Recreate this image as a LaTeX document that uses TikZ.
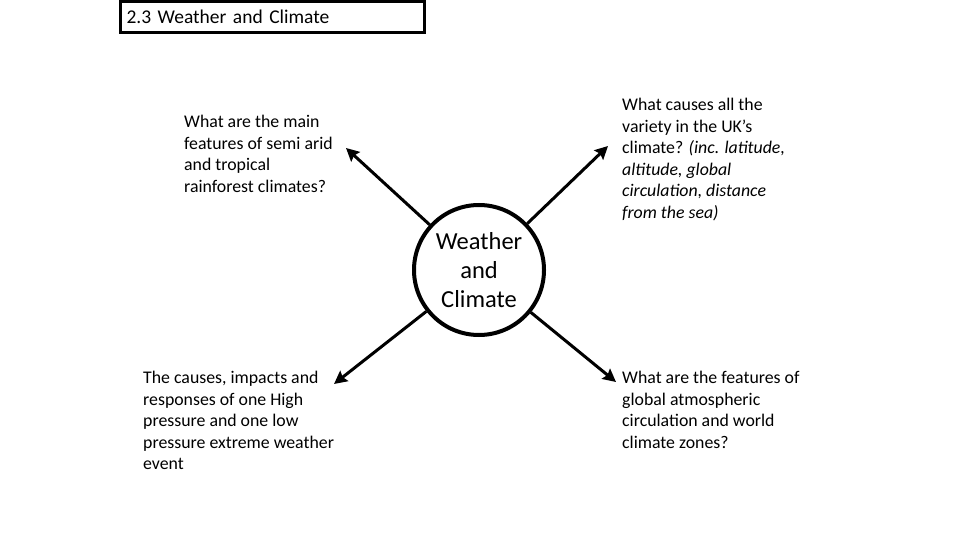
\documentclass[tikz,border=0pt]{standalone}
\usepackage{fontspec}
\setmainfont{Carlito}
\usetikzlibrary{arrows.meta}

\begin{document}
\begin{tikzpicture}[x=1pt, y=-1pt,
    titleStyle/.style={rectangle, draw, line width=3pt, minimum height=31pt, inner xsep=6pt, inner ysep=0pt, text width=292pt, align=left, font=\fontsize{19.5}{21}\selectfont},
    hubStyle/.style={circle, draw, line width=4pt, minimum size=130pt, inner sep=0pt, align=center, font=\fontsize{24.5}{29}\selectfont},
    questionStyle/.style={anchor=north west, inner sep=0pt, align=left, font=\fontsize{17.8}{21.5}\selectfont},
    arrowStyle/.style={line width=3pt, -{Stealth[length=13pt, width=13pt, inset=2pt]}}]
    \useasboundingbox (0,0) rectangle (960,540);

    \node[titleStyle] (title) at (272.5, 17) {2.3 Weather and Climate};

    \node[hubStyle] (hub) at (479, 270) {Weather\\and\\Climate};

    \coordinate (tipNW) at (346, 148);
    \coordinate (tipNE) at (608, 146);
    \coordinate (tipSW) at (334, 384);
    \coordinate (tipSE) at (616, 382);

    \node[questionStyle] (semiArid) at (184, 115) {What are the main\\features of semi arid\\and tropical\\rainforest climates?};
    \node[questionStyle] (ukClimate) at (622, 98) {What causes all the\\variety in the UK's\\climate? \textit{(inc. latitude,}\\\textit{altitude, global}\\\textit{circulation, distance}\\\textit{from the sea)}};
    \node[questionStyle] (extremeEvent) at (143, 371) {The causes, impacts and\\responses of one High\\pressure and one low\\pressure extreme weather\\event};
    \node[questionStyle] (globalCirc) at (622, 371) {What are the features of\\global atmospheric\\circulation and world\\climate zones?};

    \draw[arrowStyle] (hub) -- (tipNW);
    \draw[arrowStyle] (hub) -- (tipNE);
    \draw[arrowStyle] (hub) -- (tipSW);
    \draw[arrowStyle] (hub) -- (tipSE);
\end{tikzpicture}
\end{document}
